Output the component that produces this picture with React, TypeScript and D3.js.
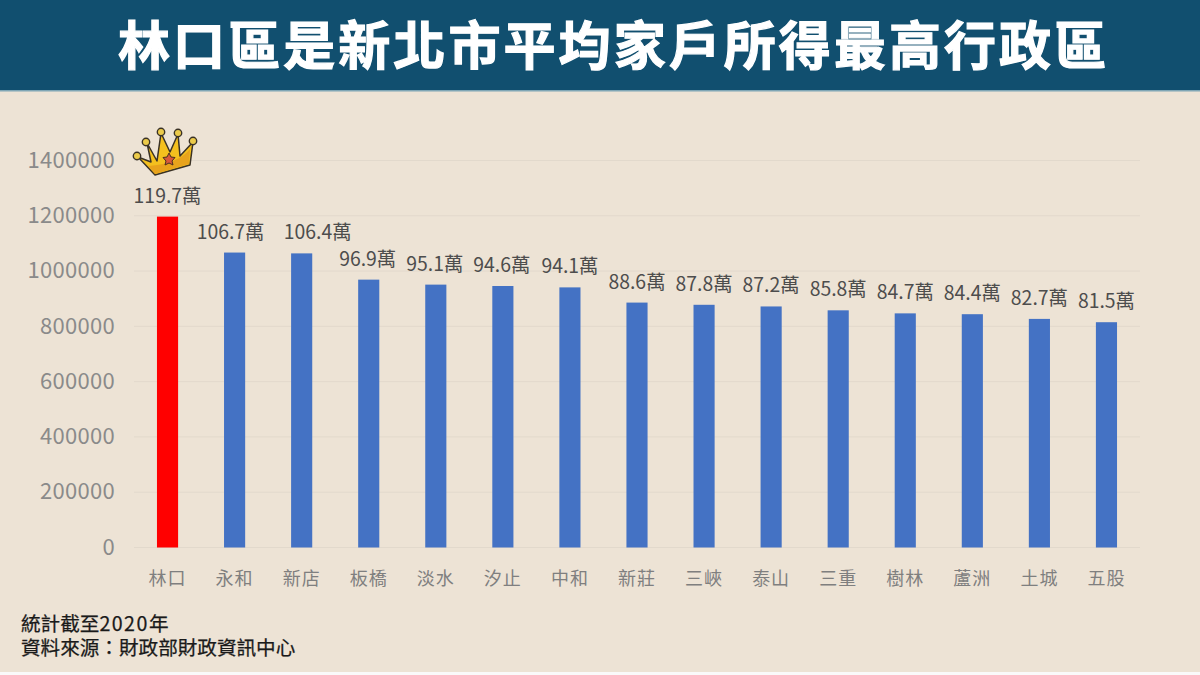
import { useEffect, useRef } from 'react';
import * as d3 from 'd3';

const districts = ['林口', '永和', '新店', '板橋', '淡水', '汐止', '中和', '新莊', '三峽', '泰山', '三重', '樹林', '蘆洲', '土城', '五股'];
const incomes = [1197000, 1067000, 1064000, 969000, 951000, 946000, 941000, 886000, 878000, 872000, 858000, 847000, 844000, 827000, 815000];
const valueLabels = ['119.7萬', '106.7萬', '106.4萬', '96.9萬', '95.1萬', '94.6萬', '94.1萬', '88.6萬', '87.8萬', '87.2萬', '85.8萬', '84.7萬', '84.4萬', '82.7萬', '81.5萬'];
const yTicks = [0, 200000, 400000, 600000, 800000, 1000000, 1200000, 1400000];
const titleText = '林口區是新北市平均家戶所得最高行政區';

const WIDTH = 1200;
const HEIGHT = 675;
const FONT = '"Noto Sans CJK TC", "Noto Sans", sans-serif';

// a few labels were dragged sideways by hand in the original
const labelNudge: Record<string, number> = { 永和: -4, 新店: 16, 板橋: -1, 淡水: -1, 汐止: -1 };

function Crown() {
  // small icon above the top bar
  const tips: [number, number][] = [[137, 156], [146, 142], [161, 132], [178, 133], [193, 141]];
  return (
    <g>
      <path
        d="M138,157 L155,175 L190,165 L193,142 L180,156 L178,134 L170,152 L161,133 L157,161 L147,143 L151,162 Z"
        fill="#f4c01e"
        stroke="#3a3226"
        strokeWidth={1.5}
        strokeLinejoin="round"
      />
      <path d="M148,166 L155,174 L189,164 L190,149 Q178,164 148,166 Z" fill="#e8a31c" />
      <path
        d="M169,153 L171,157 L175,157.5 L172,161 L173,165 L169,163 L165,165 L166,161 L163,157.5 L167,157 Z"
        fill="#d9583a"
        stroke="#4a3020"
        strokeWidth={1}
      />
      {tips.map(([cx, cy], i) => (
        <circle key={i} cx={cx} cy={cy} r={3.7} fill="#eccb4a" stroke="#3a3226" strokeWidth={1.4} />
      ))}
    </g>
  );
}

export default function App() {
  const gridRef = useRef<SVGGElement>(null);
  const barsRef = useRef<SVGGElement>(null);

  const x = d3.scaleBand<string>().domain(districts).range([134, 1140]).paddingInner(0.685).paddingOuter(0.3425);
  const y = d3.scaleLinear().domain([0, 1400000]).range([547.5, 160.5]);

  useEffect(() => {
    if (!gridRef.current || !barsRef.current) return;

    const grid = d3.select(gridRef.current);
    grid.selectAll('*').remove();
    grid.selectAll('line')
      .data(yTicks)
      .join('line')
      .attr('x1', 134)
      .attr('x2', 1140)
      .attr('y1', d => y(d))
      .attr('y2', d => y(d))
      .attr('stroke', '#e2d9cc')
      .attr('stroke-width', 1);
    grid.selectAll('text')
      .data(yTicks)
      .join('text')
      .attr('x', 115)
      .attr('y', d => y(d) - 0.5)
      .attr('dy', '0.35em')
      .attr('text-anchor', 'end')
      .attr('font-size', 22)
      .attr('letter-spacing', 0.3)
      .attr('fill', '#8a8a8a')
      .text(d => d);

    const bars = d3.select(barsRef.current);
    bars.selectAll('*').remove();
    bars.selectAll('rect')
      .data(districts)
      .join('rect')
      .attr('x', d => x(d) as number)
      .attr('y', (_, i) => y(incomes[i]))
      .attr('width', x.bandwidth())
      .attr('height', (_, i) => y(0) - y(incomes[i]))
      .attr('fill', (_, i) => (i === 0 ? '#ff0000' : '#4472c4'));
    bars.selectAll('text.value')
      .data(districts)
      .join('text')
      .attr('class', 'value')
      .attr('x', d => (x(d) as number) + x.bandwidth() / 2 + (labelNudge[d] ?? 0))
      .attr('y', (_, i) => y(incomes[i]) - 14)
      .attr('text-anchor', 'middle')
      .attr('font-size', 19.4)
      .attr('fill', '#4d4d4d')
      .text((_, i) => valueLabels[i]);
    bars.selectAll('text.cat')
      .data(districts)
      .join('text')
      .attr('class', 'cat')
      .attr('x', d => (x(d) as number) + x.bandwidth() / 2)
      .attr('y', 585)
      .attr('text-anchor', 'middle')
      .attr('font-size', 18)
      .attr('letter-spacing', 1)
      .attr('fill', '#7f7f7f')
      .text(d => d);
  }, []);

  return (
    <svg
      width={WIDTH}
      height={HEIGHT}
      viewBox={`0 0 ${WIDTH} ${HEIGHT}`}
      style={{ position: 'fixed', left: 0, top: 0, display: 'block' }}
      fontFamily={FONT}
    >
      <rect x={0} y={0} width={WIDTH} height={HEIGHT} fill="#ede3d5" />
      <rect x={0} y={672} width={WIDTH} height={3} fill="#fafafa" />
      <rect x={0} y={0} width={WIDTH} height={90} fill="#114f6f" />
      <rect x={0} y={90} width={WIDTH} height={1.5} fill="#7fa6b5" />
      <text
        x={118}
        y={65}
        fontSize={52}
        fontWeight={700}
        letterSpacing={3.07}
        fill="#ffffff"
        stroke="#ffffff"
        strokeWidth={1.2}
      >
        {titleText}
      </text>

      <g ref={gridRef} />
      <g ref={barsRef} />
      <Crown />

      <text fontSize={19.6} fontWeight={400} stroke="#1a1a1a" strokeWidth={0.25} fill="#1a1a1a">
        <tspan x={21} y={631}>統計截至</tspan>
        <tspan letterSpacing={1.5}>2020</tspan>
        <tspan>年</tspan>
        <tspan x={21} y={655}>資料來源：財政部財政資訊中心</tspan>
      </text>
    </svg>
  );
}
